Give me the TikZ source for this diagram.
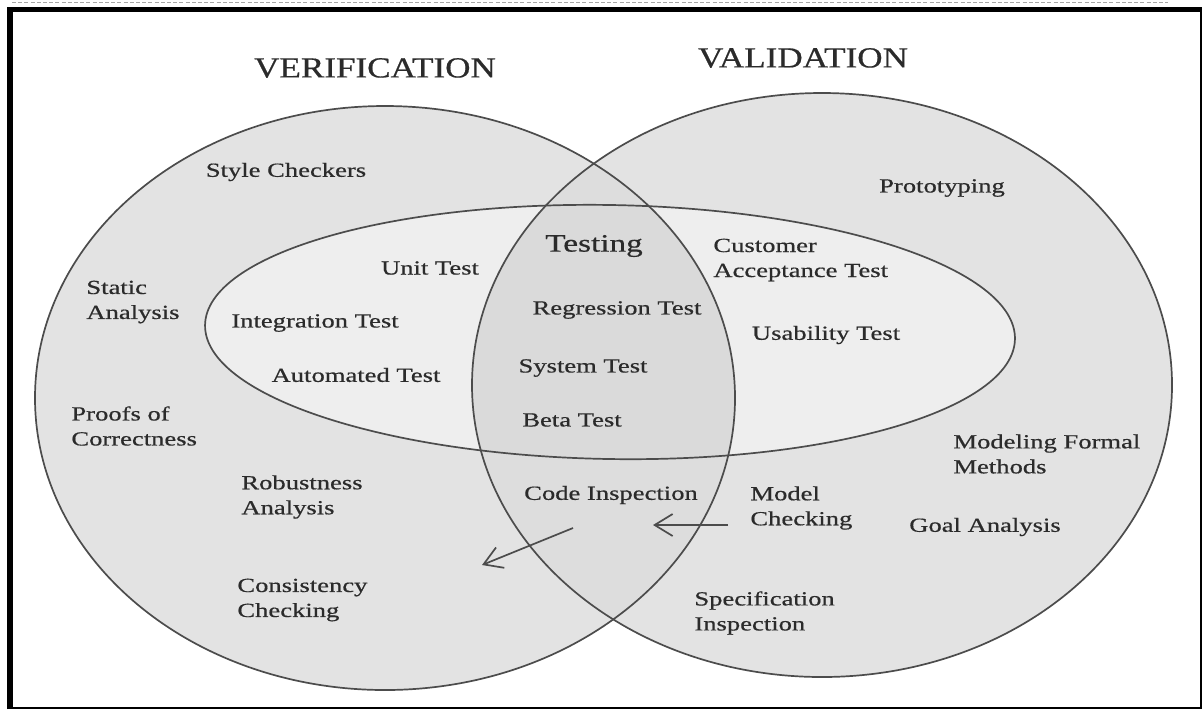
\documentclass[tikz,border=0pt]{standalone}
\usepackage{fontspec}
\setmainfont{Liberation Serif}[FakeStretch=1.33, FakeBold=0.6]
\newfontfamily\headfont{Liberation Serif}[FakeStretch=1.21, FakeBold=0.6]
\usetikzlibrary{arrows.meta}
\definecolor{circlefill}{gray}{0.89}
\definecolor{lensfill}{gray}{0.865}
\definecolor{testfill}{gray}{0.935}
\definecolor{testlensfill}{gray}{0.855}
\definecolor{outline}{gray}{0.3}
\definecolor{textgray}{gray}{0.17}

\begin{document}
\begin{tikzpicture}[x=0.5pt, y=-0.5pt, >={Straight Barb[length=9pt, width=11pt]},
    every node/.style={inner sep=0pt, text=textgray, font=\fontsize{10}{12.5}\selectfont},
    heading/.style={font=\headfont\fontsize{14.5}{17}\selectfont},
    ring/.style={draw=outline, line width=0.85pt},
    twoline/.style={anchor=west, align=left}]
    \useasboundingbox (0, 0) rectangle (1202, 709);

    % Frame
    \draw[gray!70, line width=0.5pt, dash pattern=on 2pt off 1.1pt] (12, 2) -- (1168, 2);
    \draw[line width=2.75pt] (10, 709) -- (10, 9.5) -- (1202, 9.5);
    \draw[line width=1pt] (1200.5, 9.5) -- (1200.5, 708) -- (10, 708);

    % Fills
    \fill[circlefill] (385, 398) ellipse (175pt and 146pt);
    \fill[circlefill] (822, 385) ellipse (175pt and 146pt);
    \begin{scope}
        \clip (385, 398) ellipse (175pt and 146pt);
        \fill[lensfill] (822, 385) ellipse (175pt and 146pt);
    \end{scope}
    \fill[testfill, rotate around={-1:(610, 332)}] (610, 332) ellipse (202.5pt and 63.5pt);
    \begin{scope}
        \clip (385, 398) ellipse (175pt and 146pt);
        \clip[rotate around={-1:(610, 332)}] (610, 332) ellipse (202.5pt and 63.5pt);
        \fill[testlensfill] (822, 385) ellipse (175pt and 146pt);
    \end{scope}

    % Outlines
    \draw[ring] (385, 398) ellipse (175pt and 146pt);
    \draw[ring] (822, 385) ellipse (175pt and 146pt);
    \draw[ring, rotate around={-1:(610, 332)}] (610, 332) ellipse (202.5pt and 63.5pt);

    % Headings
    \node[heading] at (375, 68) (verification) {VERIFICATION};
    \node[heading] at (803, 58) (validation) {VALIDATION};

    % Verification side
    \node at (286, 172) (stylecheckers) {Style Checkers};
    \node[twoline] at (86, 302) (staticanalysis) {Static\\Analysis};
    \node[twoline] at (71, 426) (proofs) {Proofs of\\Correctness};
    \node[twoline] at (241, 497) (robustness) {Robustness\\Analysis};
    \node[twoline] at (237, 600) (consistency) {Consistency\\Checking};
    \node at (430, 268) (unittest) {Unit Test};
    \node at (315, 323) (integrationtest) {Integration Test};
    \node at (356, 375) (automatedtest) {Automated Test};

    % Testing lens
    \node[font=\fontsize{12.5}{15}\selectfont] at (594, 246) (testing) {Testing};
    \node at (617, 310) (regressiontest) {Regression Test};
    \node at (583, 368) (systemtest) {System Test};
    \node at (572, 420) (betatest) {Beta Test};
    \node at (611, 495) (codeinspection) {Code Inspection};

    % Validation side
    \node at (942, 188) (prototyping) {Prototyping};
    \node[twoline] at (713, 260) (acceptancetest) {Customer\\Acceptance Test};
    \node at (826, 335) (usabilitytest) {Usability Test};
    \node[twoline] at (953, 454) (formalmethods) {Modeling Formal\\Methods};
    \node[twoline] at (750, 508) (modelchecking) {Model\\Checking};
    \node at (985, 527) (goalanalysis) {Goal Analysis};
    \node[twoline] at (694, 613) (specinspection) {Specification\\Inspection};

    % Arrows
    \coordinate (codeArrowTail) at (573, 528);
    \coordinate (codeArrowTip) at (482, 565);
    \coordinate (modelArrowTail) at (728, 525);
    \coordinate (modelArrowTip) at (653, 525);
    \draw[->, draw=outline, line width=0.85pt] (codeArrowTail) -- (codeArrowTip);
    \draw[->, draw=outline, line width=0.85pt] (modelArrowTail) -- (modelArrowTip);
\end{tikzpicture}
\end{document}
